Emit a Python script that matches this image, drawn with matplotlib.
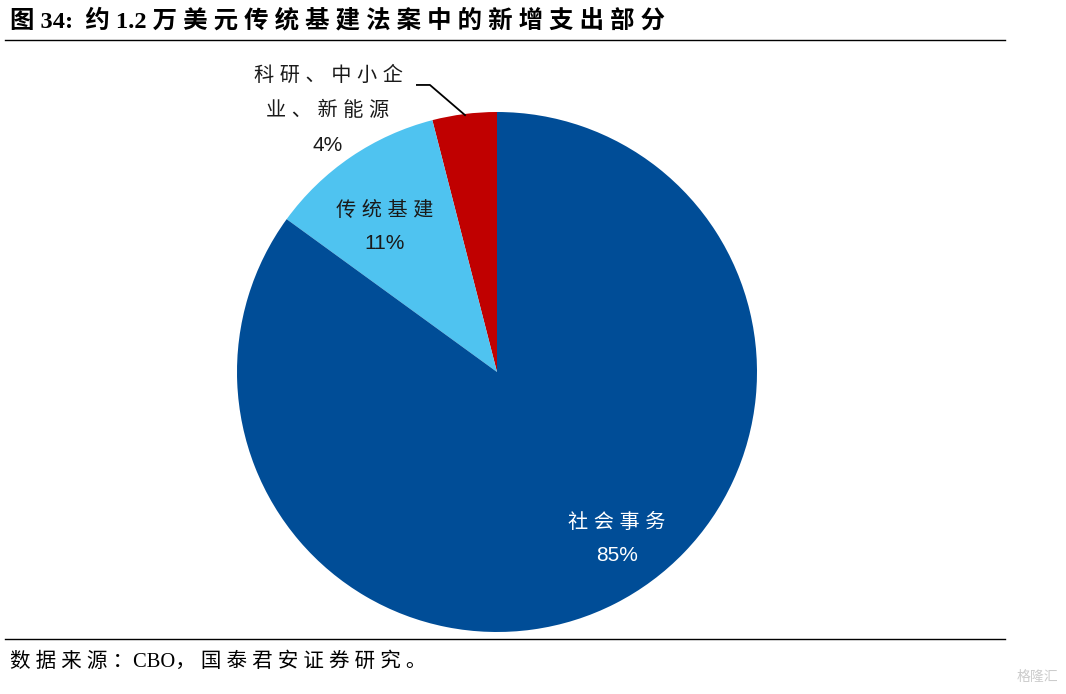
import matplotlib.pyplot as plt

plt.rcParams['font.family'] = ['Liberation Sans', 'Noto Sans CJK SC']

labels = ['科研、中小企\n业、新能源', '传统基建', '社会事务']
values = [4, 11, 85]
pct_labels = ['4%', '11%', '85%']
colors = ['#C00000', '#4FC3F0', '#004D97']


def spaced(s):
    # the reference uses wide letter spacing for CJK text
    return ' '.join(s)


W, H = 1066, 694
fig = plt.figure(figsize=(W / 100, H / 100), dpi=100)

# pie axes: centre (497, 372) px, radius 260 px
ax = fig.add_axes([(497 - 260) / W, (694 - 632) / H, 520 / W, 520 / H])
ax.pie(values, colors=colors, startangle=90, counterclock=True, radius=1,
       wedgeprops=dict(linewidth=0))
ax.set_xlim(-1, 1)
ax.set_ylim(-1, 1)
ax.set_aspect('equal')
ax.axis('off')

# inside labels
ax.text(0.46, -0.577, spaced(labels[2]), color='white', fontsize=14.5, ha='center', va='center')
ax.text(0.46, -0.706, pct_labels[2], color='white', fontsize=15, ha='center', va='center')
ax.text(-0.431, 0.623, spaced(labels[1]), color='#1a1a1a', fontsize=14.5, ha='center', va='center')
ax.text(-0.431, 0.494, pct_labels[1], color='#1a1a1a', fontsize=15, ha='center', va='center')

# outside label with leader line
l1, l2 = labels[0].split('\n')
ax.text(-0.65, 1.142, spaced(l1), color='#1a1a1a', fontsize=14.5, ha='center', va='center')
ax.text(-0.65, 1.008, spaced(l2), color='#1a1a1a', fontsize=14.5, ha='center', va='center')
ax.text(-0.65, 0.871, pct_labels[0], color='#1a1a1a', fontsize=15, ha='center', va='center')
ax.plot([-0.308, -0.258, -0.123], [1.104, 1.104, 0.988], color='black', lw=1.3,
        clip_on=False)

# title and rules
title = '图 34:  约 1.2 ' + spaced('万美元传统基建法案中的新增支出部分')
fig.text(10 / W, 1 - 21 / H, title, fontsize=17.6, fontweight='bold', ha='left', va='center',
         family=['Liberation Serif', 'Noto Sans CJK SC'])
fig.add_artist(plt.Line2D([5 / W, 1005 / W], [1 - 40 / H, 1 - 40 / H], color='black', lw=1))
fig.add_artist(plt.Line2D([5 / W, 1005 / W], [1 - 639 / H, 1 - 639 / H], color='black', lw=1))
source = spaced('数据来源：') + 'CBO， ' + spaced('国泰君安证券研究。')
fig.text(10 / W, 1 - 662 / H, source, fontsize=14.8,
         ha='left', va='center', family=['Liberation Serif', 'Noto Sans CJK SC'])
fig.text(1058 / W, 1 - 677 / H, '格隆汇', fontsize=10, color='#cccccc',
         ha='right', va='center', family=['Noto Sans CJK SC'])

fig.savefig('out.png', dpi=100)
